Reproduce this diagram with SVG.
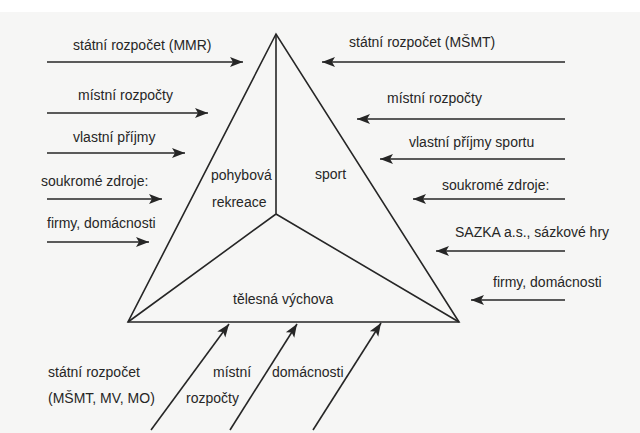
<svg xmlns="http://www.w3.org/2000/svg" width="640" height="433" viewBox="0 0 640 433">
<defs>
<style>
text{font-family:"Liberation Sans",Arial,sans-serif;font-size:14px;fill:#262626}
.ln{stroke:#262626;stroke-width:1.6;fill:none}
.ar{stroke:#262626;stroke-width:1.6;fill:none;marker-end:url(#ah)}
</style>
<marker id="ah" markerUnits="userSpaceOnUse" markerWidth="14" markerHeight="12" viewBox="0 0 14 12" refX="13" refY="6" orient="auto">
<path d="M0,1 L13,6 L0,11 L3,6 Z" fill="#262626"/>
</marker>
</defs>
<rect width="640" height="433" fill="#ffffff"/>
<rect y="12" width="640" height="421" fill="#f6f6f5"/>
<g id="triangle">
<path class="ln" d="M276,34 L128,322 L459,322 Z"/>
<path class="ln" d="M276,34 L276,214 M128,322 L276,214 L459,322"/>
</g>
<g id="inner-labels">
<text x="211" y="180">pohybová</text>
<text x="212" y="207">rekreace</text>
<text x="315" y="179">sport</text>
<text x="233" y="304">tělesná výchova</text>
</g>
<g id="connectors">
<line class="ar" x1="47" y1="62" x2="243" y2="62"/>
<line class="ar" x1="47" y1="113" x2="208" y2="113"/>
<line class="ar" x1="47" y1="153" x2="185" y2="153"/>
<line class="ar" x1="47" y1="199" x2="162" y2="199"/>
<line class="ar" x1="47" y1="242" x2="149" y2="242"/>
<line class="ar" x1="565" y1="62" x2="322" y2="62"/>
<line class="ar" x1="565" y1="119" x2="357" y2="119"/>
<line class="ar" x1="565" y1="159" x2="380" y2="159"/>
<line class="ar" x1="565" y1="199" x2="413" y2="199"/>
<line class="ar" x1="565" y1="251" x2="436" y2="251"/>
<line class="ar" x1="565" y1="300" x2="471" y2="300"/>
<line class="ar" x1="151" y1="430" x2="229" y2="324"/>
<line class="ar" x1="230" y1="430" x2="297" y2="324"/>
<line class="ar" x1="313" y1="430" x2="381" y2="323"/>
</g>
<g id="left-labels">
<text x="73" y="50">státní rozpočet (MMR)</text>
<text x="78" y="100">místní rozpočty</text>
<text x="73" y="142">vlastní příjmy</text>
<text x="41" y="186">soukromé zdroje:</text>
<text x="47" y="228">firmy, domácnosti</text>
</g>
<g id="right-labels">
<text x="349" y="47">státní rozpočet (MŠMT)</text>
<text x="387" y="103">místní rozpočty</text>
<text x="409" y="147">vlastní příjmy sportu</text>
<text x="442" y="190">soukromé zdroje:</text>
<text x="455" y="237">SAZKA a.s., sázkové hry</text>
<text x="493" y="287">firmy, domácnosti</text>
</g>
<g id="bottom-labels">
<text x="48" y="377">státní rozpočet</text>
<text x="48" y="403">(MŠMT, MV, MO)</text>
<text x="213" y="377">místní</text>
<text x="186" y="403">rozpočty</text>
<text x="272" y="377">domácnosti</text>
</g>
</svg>
